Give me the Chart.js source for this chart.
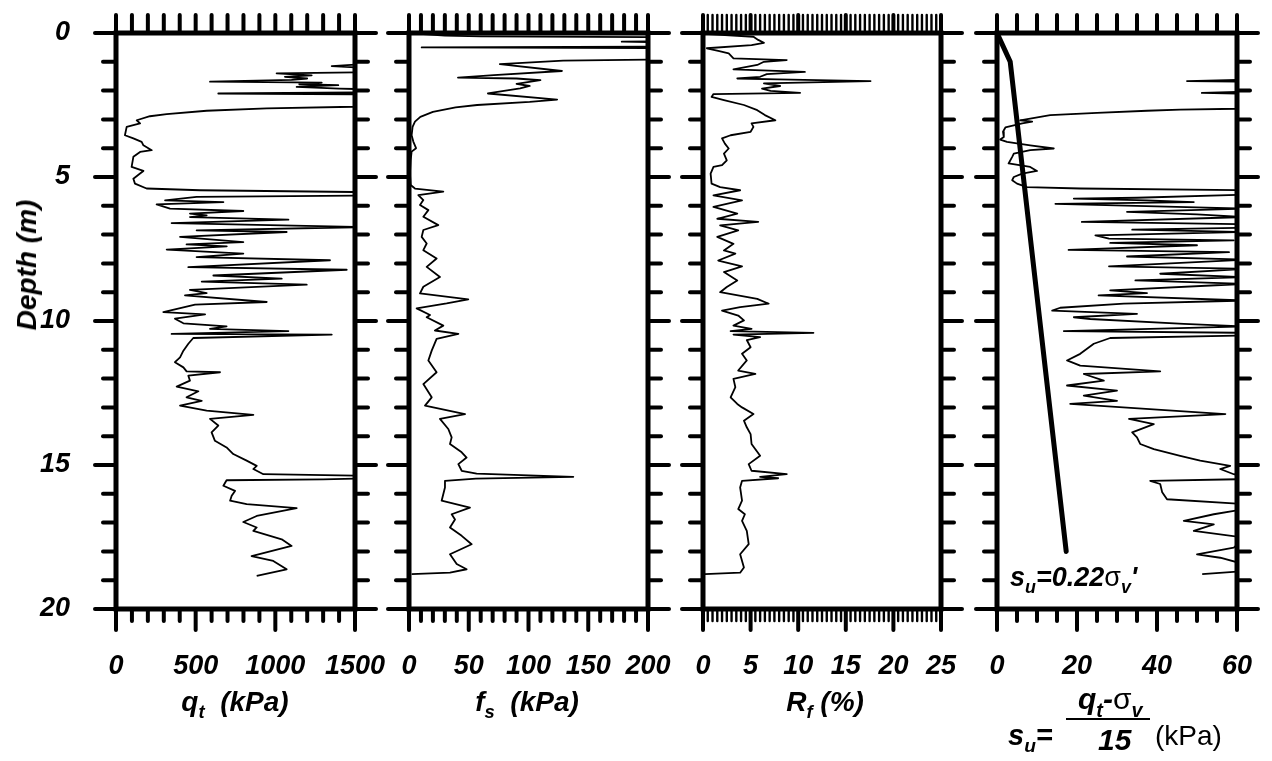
<!DOCTYPE html>
<html>
<head>
<meta charset="utf-8">
<script src="https://cdn.jsdelivr.net/npm/chart.js@4.4.1/dist/chart.umd.min.js"></script>
<style>
  html, body { margin: 0; padding: 0; background: #fff; }
  #wrap { position: relative; width: 1272px; height: 761px; overflow: hidden; background: #fff; }
  canvas { position: absolute; left: 0; top: 0; }
  .t { position: absolute; font-family: "Liberation Sans", Arial, sans-serif; font-weight: bold; font-style: italic;
       color: #000; white-space: nowrap; line-height: 1; }
  .sub { font-size: 0.66em; position: relative; top: 0.38em; }
  .plain { font-weight: normal; font-style: normal; }
</style>
</head>
<body>
<div id="wrap">
  <canvas id="pQt" width="1272" height="761"></canvas>
  <canvas id="pFs" width="1272" height="761"></canvas>
  <canvas id="pRf" width="1272" height="761"></canvas>
  <canvas id="pSu" width="1272" height="761"></canvas>

  <div class="t" style="font-size:28px;left:27px;top:265px;transform:translate(-50%,-50%) rotate(-90deg);">Depth (m)</div>
  <div class="t" style="font-size:28px;left:235px;top:702px;transform:translate(-50%,-50%);">q<span class="sub">t</span>&nbsp; (kPa)</div>
  <div class="t" style="font-size:28px;left:527px;top:702px;transform:translate(-50%,-50%);">f<span class="sub">s</span>&nbsp; (kPa)</div>
  <div class="t" style="font-size:28px;left:825px;top:702px;transform:translate(-50%,-50%);">R<span class="sub">f</span> (%)</div>

  <!-- undrained strength definition under the last panel -->
  <div class="t" style="font-size:29px;left:1008px;top:721px;">s<span class="sub">u</span>=</div>
  <div class="t" style="font-size:30px;left:1078px;top:684px;">q<span class="sub">t</span>-<span class="plain">&sigma;</span><span class="sub">v</span></div>
  <div style="position:absolute;left:1066px;top:718px;width:84px;height:2px;background:#000;"></div>
  <div class="t" style="font-size:30px;left:1098px;top:725px;">15</div>
  <div class="t plain" style="font-size:28px;left:1155px;top:722px;">(kPa)</div>

  <!-- trend line label inside the last panel -->
  <div class="t" style="font-size:27px;left:1010px;top:564px;">s<span class="sub">u</span>=0.22<span class="plain">&sigma;</span><span class="sub">v</span>'</div>
</div>

<script>
// ---- depth axis ----
const depthTicks = [0, 5, 10, 15, 20];

// ---- cone resistance q_t (kPa) ----
const qtDepth = [0.00,1.08,1.15,1.22,1.36,1.40,1.47,1.52,1.58,1.63,
  1.69,1.72,1.78,1.81,1.87,1.93,1.96,2.06,2.10,2.13,
  2.52,2.56,2.62,2.70,2.82,2.89,3.03,3.14,3.26,3.55,
  3.66,3.78,3.90,4.07,4.13,4.30,4.65,4.79,4.88,5.06,
  5.23,5.40,5.46,5.52,5.56,5.64,5.69,5.81,5.87,5.95,
  6.10,6.18,6.27,6.33,6.39,6.48,6.60,6.74,6.85,6.91,
  7.08,7.26,7.34,7.41,7.52,7.66,7.78,7.89,8.13,8.22,
  8.42,8.53,8.63,8.74,8.92,9.03,9.11,9.34,9.43,9.69,
  9.77,9.92,10.08,10.19,10.27,10.35,10.45,10.47,10.59,10.79,
  11.03,11.26,11.43,11.61,11.75,11.78,11.90,12.07,12.28,12.44,
  12.65,12.77,12.94,13.11,13.26,13.40,13.63,13.87,14.16,14.39,
  14.62,14.85,15.03,15.14,15.32,15.38,15.46,15.50,15.53,15.72,
  15.90,16.07,16.24,16.36,16.50,16.77,16.98,17.17,17.29,17.58,
  17.81,18.16,18.33,18.62,18.85];
const qtKPa = [2000,1560,1354,1600,1560,1008,1228,1060,1200,1102,
  590,1291,1150,1395,1134,1400,1600,1600,642,1600,
  1650,1490,946,569,318,213,130,151,67,56,
  109,161,172,224,151,109,98,172,151,109,
  119,192,527,1490,1600,1600,506,308,674,255,
  339,799,464,569,464,1082,349,1550,506,1071,
  402,799,443,695,318,799,506,1343,454,1448,
  611,1040,538,1197,464,569,433,946,496,297,
  559,370,423,694,590,1082,349,1354,485,454,
  423,402,370,423,443,653,454,464,381,517,
  443,538,402,569,862,590,642,600,621,694,
  736,820,883,862,925,1600,1600,1300,694,674,
  747,726,716,820,1134,883,799,883,862,1040,
  1102,851,987,1071,883];
const qtTicks = [0, 500, 1000, 1500];

// ---- sleeve friction f_s (kPa) ----
const fsDepth = [0.00,0.09,0.12,0.15,0.27,0.30,0.34,0.47,0.50,0.53,
  0.90,0.96,1.08,1.32,1.46,1.55,1.58,1.64,1.77,1.84,
  1.92,2.10,2.31,2.39,2.50,2.58,2.74,2.91,3.08,3.26,
  3.55,3.77,4.00,4.12,4.41,4.88,5.28,5.40,5.51,5.63,
  5.80,5.97,6.15,6.38,6.67,6.84,7.08,7.31,7.54,7.83,
  8.12,8.47,8.81,9.04,9.25,9.39,9.56,9.79,9.87,10.16,
  10.33,10.45,10.62,11.03,11.37,11.78,12.19,12.65,12.94,13.23,
  13.40,13.75,14.04,14.27,14.56,14.74,14.97,15.20,15.30,15.41,
  15.47,15.55,15.78,16.24,16.48,16.71,16.89,17.17,17.46,17.75,
  18.10,18.44,18.62,18.74,18.79];
const fsKPa = [0,30,60,240,240,178,240,240,10.6,240,
  240,129,76,128,71,41,90,110,90,101,
  93,66,124,101,57,39,20,9.5,5,3,
  2.2,3.6,5.9,2.2,1.4,0.8,1.4,5,28.7,7.8,
  12,9.2,16.2,12,24.5,12,10.6,14.8,12,23.1,
  14.8,25.9,12,9.2,49.6,31.5,6.4,17.6,14.8,28.7,
  21.7,41.3,23.1,19,16.2,23.1,12,19,13.4,46.9,
  25.9,32.9,35.7,34.3,44.1,48.2,41.3,44.1,56.6,137.5,
  56,30.1,30.1,27.3,51,35.7,38.5,34.3,44.1,52.4,
  34.3,39.9,48.2,34.3,2.2];
const fsTicks = [0, 50, 100, 150, 200];

// ---- friction ratio R_f (%) ----
const rfDepth = [0.00,0.04,0.13,0.24,0.34,0.42,0.53,0.62,0.71,0.88,
  0.94,1.00,1.11,1.26,1.35,1.43,1.52,1.58,1.61,1.67,
  1.75,1.84,1.93,2.01,2.08,2.12,2.22,2.33,2.50,2.68,
  2.85,3.03,3.14,3.26,3.43,3.55,3.66,3.84,4.01,4.19,
  4.42,4.59,4.65,4.88,5.23,5.35,5.46,5.64,5.81,6.04,
  6.27,6.45,6.56,6.68,6.85,7.08,7.32,7.55,7.66,7.90,
  8.10,8.30,8.59,8.82,9.00,9.23,9.40,9.52,9.64,9.81,
  9.98,10.16,10.27,10.35,10.41,10.47,10.56,10.66,10.91,11.14,
  11.37,11.72,11.84,12.01,12.30,12.65,12.88,13.00,13.23,13.46,
  13.69,13.93,14.27,14.68,14.97,15.20,15.32,15.41,15.46,15.55,
  15.78,16.24,16.53,16.71,16.94,17.29,17.75,18.10,18.56,18.74,
  18.79];
const rfPct = [0.5,0.6,5.3,5.8,6.4,5.1,0.4,1.6,2.7,3.2,
  8.8,6.4,5.7,3.2,10.7,6.7,6.0,3.6,7.8,17.6,
  6.4,8.1,6.2,7.1,10.2,1.1,0.9,2.2,4.3,5.7,
  6.5,7.6,5.1,5.3,5.0,2.9,2.0,2.3,2.7,2.2,
  2.5,2.0,1.1,0.8,0.9,1.8,3.9,1.1,4.1,1.1,
  3.6,1.5,5.8,1.8,3.7,1.5,3.2,2.2,3.4,1.6,
  4.1,2.2,3.6,2.5,1.8,5.7,6.9,3.9,2.0,3.7,
  4.3,3.2,5.1,2.9,11.6,3.2,6.0,4.6,5.0,4.1,
  4.6,3.7,5.5,3.2,3.4,2.9,3.6,4.1,5.3,4.3,
  4.6,5.0,5.1,6.0,4.8,5.1,8.8,6.0,7.9,4.1,
  3.9,4.1,3.7,4.4,4.1,4.6,4.8,3.9,4.3,3.9,
  0.2];
const rfTicks = [0, 5, 10, 15, 20, 25];

// ---- undrained shear strength s_u (kPa) ----
const suDepth = [0.00,1.61,1.67,1.70,2.03,2.08,2.12,2.58,2.63,2.66,
  2.70,2.77,2.85,2.97,3.03,3.08,3.14,3.28,3.43,3.61,
  3.70,3.78,3.90,4.01,4.07,4.19,4.30,4.53,4.65,4.79,
  4.88,5.00,5.11,5.23,5.35,5.40,5.46,5.60,5.72,5.75,
  5.81,5.87,5.93,6.10,6.21,6.30,6.39,6.56,6.64,6.76,
  6.83,6.91,7.03,7.14,7.20,7.29,7.37,7.53,7.61,7.76,
  7.87,8.10,8.19,8.36,8.48,8.59,8.71,8.94,9.03,9.11,
  9.29,9.40,9.54,9.64,9.75,9.87,9.93,10.10,10.19,10.35,
  10.41,10.50,10.59,10.79,11.14,11.37,11.55,11.75,11.84,12.07,
  12.24,12.42,12.59,12.77,12.88,13.23,13.40,13.58,13.87,14.04,
  14.27,14.45,14.68,14.85,15.03,15.14,15.32,15.41,15.49,15.55,
  15.66,15.95,16.19,16.36,16.53,16.71,16.94,17.06,17.29,17.52,
  17.87,18.10,18.22,18.45,18.68,18.79];
const suKPa = [80,65,47.5,65,65,51.2,65,65,60,45.8,
  37.5,25,13.3,8.3,5.8,8.8,6.3,2.1,1.5,1.7,
  0.8,2.5,8.3,14.2,8.3,4.2,3.8,2.9,8.3,10,
  6.3,4.2,3.8,5,7.5,20.8,62,65,35,19.2,
  37.5,49.2,14.6,62,32.5,50,62,21.2,62,62,
  33.8,62,24.6,28,59.2,28.3,50,17.9,58,32.5,
  62,28,62,40.8,62,34.6,62,28.3,37.5,25.4,
  62,31.7,15.8,13.8,35,19.2,23.3,46.7,62,16.7,
  62,62,28.3,24.2,20.8,17.5,20.8,40.8,21.7,26.7,
  17.5,30,21.7,30,18.3,57.1,33,39.2,33.8,35,
  35.8,39.2,45.8,50.8,58.3,55.8,59.2,62,62,38.3,
  40.8,41.3,42.5,62,62,54.2,46.7,54.2,49.2,62,
  59.2,50,55.8,62,62,51.3];
const suTicks = [0, 20, 40, 60];

// s_u = 0.22 sigma_v' trend
const trendDepth = [0, 1.0, 18.0];
const trendSu = [0, 3.3, 17.3];

// ---- drawing ----
const W = 1272, H = 761;
const FONT = '"Liberation Sans", Arial, sans-serif';

function profile(depths, values) {
  const n = Math.min(depths.length, values.length);
  const pts = [];
  for (let i = 0; i < n; i++) pts.push({ x: values[i], y: depths[i] });
  return pts;
}

// Box, tick marks and tick labels of one log panel
const panelFrame = {
  id: 'panelFrame',
  afterDatasetsDraw(chart, args, o) {
    const { ctx, chartArea: a, scales: { x, y } } = chart;
    const seg = (x1, y1, x2, y2) => { ctx.beginPath(); ctx.moveTo(x1, y1); ctx.lineTo(x2, y2); ctx.stroke(); };
    ctx.save();
    ctx.strokeStyle = '#000';
    ctx.fillStyle = '#000';
    ctx.lineCap = 'round';
    ctx.lineWidth = 4;
    // depth ticks, every metre, longer every 5 m
    for (let d = 0; d <= 20; d++) {
      const py = y.getPixelForValue(d);
      const len = d % 5 === 0 ? 21 : 13;
      seg(a.left, py, a.left - len, py);
      seg(a.right, py, a.right + len, py);
    }
    // value ticks top and bottom
    const n = Math.round(o.max / o.minor);
    const every = Math.round(o.major / o.minor);
    for (let i = 0; i <= n; i++) {
      const px = x.getPixelForValue(i * o.minor);
      const major = i % every === 0;
      ctx.lineWidth = major ? 4 : o.minorWidth;
      seg(px, a.top, px, a.top - 18);
      seg(px, a.bottom, px, a.bottom + (major ? 21 : 12));
    }
    ctx.lineCap = 'butt';
    ctx.lineJoin = 'miter';
    ctx.lineWidth = 5;
    ctx.strokeRect(a.left, a.top, a.right - a.left, a.bottom - a.top);

    ctx.font = 'italic bold 27px ' + FONT;
    ctx.textAlign = 'center';
    ctx.textBaseline = 'middle';
    o.labels.forEach(v => ctx.fillText(String(v), x.getPixelForValue(v), a.bottom + 58));
    if (o.depthLabels) {
      ctx.textAlign = 'right';
      ctx.font = 'italic bold 27px ' + FONT;
      depthTicks.forEach(d => ctx.fillText(String(d), a.left - 46, y.getPixelForValue(d)));
    }
    ctx.restore();
  }
};

function makePanel(id, left, right, max, minor, major, minorWidth, labels, datasets, depthLabels) {
  return new Chart(document.getElementById(id), {
    type: 'line',
    data: { datasets },
    plugins: [panelFrame],
    options: {
      indexAxis: 'y',
      responsive: false,
      animation: false,
      devicePixelRatio: 1,
      events: [],
      layout: { padding: { left: left, right: W - right, top: 33, bottom: H - 609 } },
      elements: { point: { radius: 0 }, line: { tension: 0 } },
      scales: {
        x: { type: 'linear', min: 0, max: max, display: false },
        y: { type: 'linear', min: 0, max: 20, reverse: true, display: false }
      },
      plugins: {
        legend: { display: false },
        tooltip: { enabled: false },
        panelFrame: { max, minor, major, minorWidth, labels, depthLabels }
      }
    }
  });
}

const thin = (pts) => ({ data: pts, borderColor: '#000', borderWidth: 1.8, fill: false, borderJoinStyle: 'round' });

makePanel('pQt', 116, 355, 1500, 100, 500, 4, qtTicks, [thin(profile(qtDepth, qtKPa))], true);
makePanel('pFs', 409, 648, 200, 10, 50, 4, fsTicks, [thin(profile(fsDepth, fsKPa))], false);
makePanel('pRf', 703, 941, 25, 0.5, 5, 2.4, rfTicks, [thin(profile(rfDepth, rfPct))], false);
makePanel('pSu', 997, 1237, 60, 5, 20, 4, suTicks, [
  thin(profile(suDepth, suKPa)),
  { data: profile(trendDepth, trendSu), borderColor: '#000', borderWidth: 5, fill: false, borderCapStyle: 'round' }
], false);
</script>
</body>
</html>
